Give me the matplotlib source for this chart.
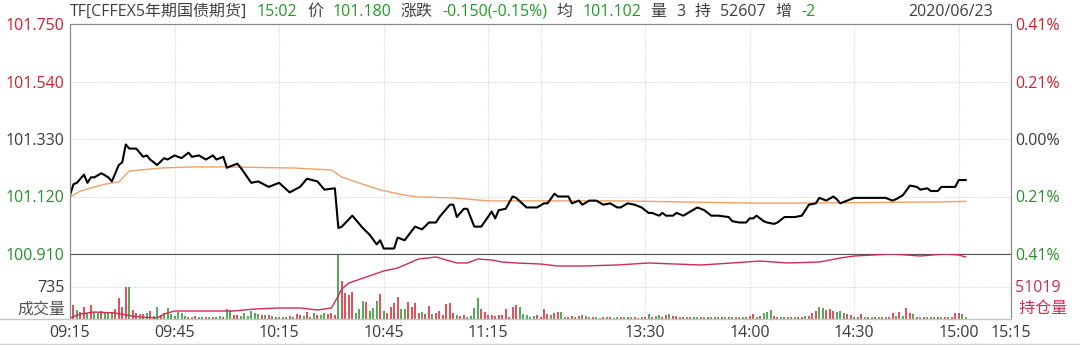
import matplotlib
matplotlib.use("Agg")
import matplotlib.pyplot as plt
from matplotlib.lines import Line2D

plt.rcParams['font.family'] = ['Open Sans', 'Noto Sans CJK SC', 'DejaVu Sans']

# ---- data --------------------------------------------------------------
# x axis is "trading minutes" since 09:15 (lunch break 11:30-13:00 removed)
tick_minutes = [0, 30, 60, 90, 120, 135, 165, 195, 225, 255, 270]
tick_labels = ["09:15", "09:45", "10:15", "10:45", "11:15", "",
               "13:30", "14:00", "14:30", "15:00", "15:15"]

prev_settle = 101.330
price_ticks = [100.910, 101.120, 101.330, 101.540, 101.750]
pct_labels = ["0.41%", "0.21%", "0.00%", "0.21%", "0.41%"]

price_t = [0, 1, 2, 4, 5, 6, 7, 9, 11, 12, 14, 15, 16, 17, 19, 21, 22, 23, 25, 27,
           28, 30, 32, 34, 35, 37, 39, 41, 42, 44, 45, 46, 48, 49, 52, 54, 57, 60, 63, 66,
           68, 71, 73, 76, 77, 78, 81, 82, 84, 86, 88, 89, 90, 93, 94, 96, 99, 101, 103, 105,
           106, 109, 110, 111, 113, 114, 116, 118, 121, 122, 123, 125, 127, 128, 131, 134, 136, 137, 139, 140,
           143, 144, 146, 147, 149, 151, 153, 155, 157, 158, 160, 162, 164, 166, 167, 169, 170, 171, 173, 174,
           176, 178, 180, 182, 184, 186, 189, 190, 192, 194, 195, 196, 197, 199, 200, 202, 203, 205, 206, 208,
           210, 211, 212, 214, 215, 217, 219, 220, 221, 223, 225, 234, 236, 237, 239, 241, 243, 244, 246, 247,
           249, 250, 254, 255, 257]
price_v = [101.125, 101.165, 101.170, 101.200, 101.170, 101.190, 101.190, 101.205, 101.190, 101.175,
           101.235, 101.245, 101.310, 101.295, 101.295, 101.265, 101.270, 101.255, 101.235, 101.260,
           101.255, 101.270, 101.260, 101.280, 101.265, 101.270, 101.255, 101.270, 101.255, 101.265,
           101.225, 101.230, 101.240, 101.225, 101.170, 101.175, 101.155, 101.170, 101.135, 101.155,
           101.185, 101.175, 101.145, 101.150, 101.005, 101.010, 101.050, 101.035, 101.005, 100.980,
           100.945, 100.960, 100.930, 100.930, 100.970, 100.960, 101.010, 101.000, 101.025, 101.025,
           101.045, 101.090, 101.090, 101.045, 101.075, 101.075, 101.010, 101.010, 101.065, 101.040,
           101.070, 101.075, 101.120, 101.115, 101.080, 101.080, 101.095, 101.095, 101.130, 101.120,
           101.120, 101.095, 101.105, 101.090, 101.105, 101.105, 101.090, 101.095, 101.080, 101.080,
           101.095, 101.090, 101.080, 101.060, 101.060, 101.050, 101.060, 101.050, 101.050, 101.060,
           101.050, 101.065, 101.080, 101.070, 101.050, 101.050, 101.045, 101.030, 101.025, 101.025,
           101.040, 101.040, 101.050, 101.030, 101.025, 101.020, 101.025, 101.045, 101.045, 101.045,
           101.050, 101.070, 101.090, 101.095, 101.115, 101.105, 101.120, 101.110, 101.095, 101.105,
           101.115, 101.115, 101.105, 101.110, 101.125, 101.160, 101.155, 101.145, 101.150, 101.140,
           101.140, 101.155, 101.155, 101.180, 101.180]

avg_t = [0, 3, 7, 10, 14, 17, 26, 35, 45, 64, 75, 78, 83, 89, 96, 100, 110, 120, 158, 195, 210, 248, 257]
avg_v = [101.118, 101.140, 101.155, 101.165, 101.173, 101.213, 101.224, 101.228, 101.228, 101.224,
         101.217, 101.191, 101.169, 101.144, 101.125, 101.118, 101.115, 101.104, 101.104, 101.096,
         101.096, 101.100, 101.102]

# volume per minute, t = 0..257, and whether the minute closed up (u) or down (d)
vol_mid = 735
volume = [700, 317, 204, 166, 279, 128, 317, 166, 128, 188,
          143, 128, 166, 219, 467, 264, 731, 731, 204, 128,
          106, 106, 128, 181, 75, 264, 90, 128, 241, 113,
          75, 166, 128, 75, 53, 45, 60, 40, 50, 45,
          40, 55, 45, 60, 50, 219, 203, 90, 100, 60,
          143, 75, 188, 143, 120, 90, 90, 100, 68, 45,
          50, 40, 45, 60, 40, 120, 90, 60, 166, 50,
          143, 100, 90, 143, 120, 143, 90, 1470, 860, 596,
          543, 618, 128, 219, 407, 377, 181, 241, 407, 566,
          181, 128, 279, 354, 490, 226, 219, 392, 279, 354,
          143, 166, 106, 294, 113, 128, 181, 90, 339, 354,
          143, 90, 68, 90, 53, 68, 241, 467, 219, 166,
          90, 90, 75, 90, 90, 219, 53, 264, 317, 264,
          113, 90, 53, 68, 90, 53, 219, 113, 90, 143,
          150, 166, 53, 53, 75, 53, 68, 90, 68, 40,
          35, 40, 30, 45, 35, 40, 30, 35, 45, 40,
          35, 45, 40, 30, 40, 45, 113, 45, 68, 90,
          40, 90, 113, 75, 68, 40, 35, 45, 40, 35,
          45, 40, 35, 45, 40, 50, 40, 35, 45, 40,
          50, 45, 40, 50, 45, 60, 113, 50, 60, 143,
          166, 204, 60, 45, 40, 50, 45, 40, 50, 45,
          50, 60, 75, 143, 188, 264, 241, 204, 219, 188,
          166, 188, 143, 113, 90, 50, 45, 113, 40, 45,
          40, 45, 50, 40, 45, 50, 128, 60, 166, 70,
          241, 143, 113, 45, 40, 50, 45, 40, 45, 50,
          45, 40, 50, 45, 128, 143, 113, 45]
vol_dir = ("duduududdu" "ddduuuuduu" "dududduddd" "ddddududdu" "duddudduud"
           "dddddududu" "dududuudud" "dudduuuduu" "uudddudddu" "duuuudduuu"
           "uduuduuuuu" "uduudddduu" "uuuuuuuuud" "dddduuuudu" "udduududud"
           "uddududdud" "ududdududd" "uuduududud" "dududududu" "dudduuudud"
           "dduudududu" "uduuudduuu" "ddduuduudu" "dududuudud" "uududududu"
           "duduuudd")

oi_mid = 51019
oi_half = 1601
oi_t = [0, 3, 7, 13, 16, 20, 25, 27, 30, 47, 53, 60, 66, 71, 75, 76, 78, 80, 85, 90,
        94, 98, 100, 105, 111, 114, 117, 121, 124, 128, 135, 140, 147, 157, 166, 181, 190, 198, 206, 215,
        221, 225, 236, 244, 251, 255, 257]
oi_v = [49467, 49664, 49763, 49714, 49615, 49517, 49467, 49664, 49812, 49812,
        49911, 49960, 49960, 49861, 49960, 50256, 50896, 51191, 51487, 51783,
        51930, 52226, 52374, 52472, 52177, 52177, 52374, 52324, 52226, 52177,
        52127, 52029, 52029, 52078, 52177, 52078, 52177, 52275, 52177, 52226,
        52423, 52521, 52620, 52521, 52620, 52571, 52472]

title_parts = [("TF[CFFEX5年期国债期货]", "gray"), ("15:02", "green"), ("价", "gray"),
               ("101.180", "green"), ("涨跌", "gray"), ("-0.150(-0.15%)", "green"),
               ("均", "gray"), ("101.102", "green"), ("量", "gray"), ("3", "gray"),
               ("持", "gray"), ("52607", "gray"), ("增", "gray"), ("-2", "green")]
date_text = "2020/06/23"

# ---- styling -------------------------------------------------------------
RED = "#d4202c"
GREEN = "#27902a"
GRAY = "#3a3a3a"
OI_RED = "#d02a55"
GRID = "#d9d9d9"
W, H = 1080, 345

fig = plt.figure(figsize=(W / 100, H / 100), dpi=100)
ax = fig.add_axes([70 / W, 1 - 254 / H, 941 / W, 230 / H])
axv = fig.add_axes([70 / W, 1 - 319 / H, 941 / W, 65 / H], sharex=ax)

# price panel
ax.plot(avg_t, avg_v, color="#f2a065", lw=1.0)
ax.plot(price_t, price_v, color="black", lw=1.5)
span = price_ticks[-1] - prev_settle
ax.set_ylim(prev_settle - span, prev_settle + span)
ax.set_xlim(0, 270)
ax.set_yticks(price_ticks)
ax.set_yticklabels([f"{p:.3f}" for p in price_ticks])
for lab, c in zip(ax.get_yticklabels(), [GREEN, GREEN, GRAY, RED, RED]):
    lab.set_color(c)
ax.tick_params(axis="y", length=0, pad=4, labelsize=11.5)
ax.tick_params(axis="x", length=0, labelbottom=False)
ax.set_xticks(tick_minutes)
ax.grid(True, color=GRID, lw=0.8, linestyle=(0, (1, 1)))

axp = ax.twinx()
axp.set_ylim(ax.get_ylim())
axp.set_yticks(price_ticks)
axp.set_yticklabels(pct_labels)
for lab, c in zip(axp.get_yticklabels(), [GREEN, GREEN, GRAY, RED, RED]):
    lab.set_color(c)
axp.tick_params(axis="y", length=0, pad=3, labelsize=11.5)

for a in (ax, axp):
    for s in ("left", "right", "top"):
        a.spines[s].set_color("#8a8a8a")
    a.spines["bottom"].set_color("#555555")

# volume panel
colors = [RED if d == "u" else GREEN for d in vol_dir]
axv.vlines(range(len(volume)), 0, volume, colors=colors, lw=1.1)
axv.set_ylim(0, 2 * vol_mid)
axv.set_yticks([vol_mid])
axv.set_yticklabels([str(vol_mid)], color=GRAY)
axv.tick_params(axis="y", length=0, pad=4, labelsize=11.5)
axv.set_xticks(tick_minutes)
axv.set_xticklabels(tick_labels, color=GRAY)
axv.tick_params(axis="x", length=0, pad=4, labelsize=11.5)
axv.grid(True, color=GRID, lw=0.8, linestyle=(0, (1, 1)))
for s in ("left", "right"):
    axv.spines[s].set_color("#8a8a8a")
axv.spines["top"].set_visible(False)
axv.spines["bottom"].set_visible(False)

axo = axv.twinx()
axo.plot(oi_t, oi_v, color=OI_RED, lw=1.0)
axo.set_ylim(oi_mid - oi_half, oi_mid + oi_half)
axo.set_yticks([oi_mid])
axo.set_yticklabels([str(oi_mid)], color=OI_RED)
axo.tick_params(axis="y", length=0, pad=3, labelsize=11.5)
for s in ("top", "bottom"):
    axo.spines[s].set_visible(False)
axo.spines["right"].set_color("#8a8a8a")
axo.spines["left"].set_color("#8a8a8a")

axv.text(-0.005, 0.15, "成交量", transform=axv.transAxes, ha="right",
         va="center", color="#555555", fontsize=11.5)
axv.text(1.0, 0.15, "  持仓量", transform=axv.transAxes, ha="left",
         va="center", color=OI_RED, fontsize=11.5)

# frame lines
fig.add_artist(Line2D([0, 1011 / W], [1 - 319 / H, 1 - 319 / H], color="#c4c4c4", lw=1))
fig.add_artist(Line2D([0, 1], [0.002, 0.002], color="#d0d0d0", lw=1))

# header line
fig.canvas.draw()
r = fig.canvas.get_renderer()
x = 70
for txt, c in title_parts:
    col = {"gray": "#404040", "green": "#229a26"}[c]
    t = fig.text(x / W, 1 - 12 / H, txt, color=col, fontsize=11.5, va="center", ha="left")
    bb = t.get_window_extent(renderer=r)
    x = bb.x1 + 9.5
fig.text(993 / W, 1 - 12 / H, date_text, color="#404040", fontsize=11.5, va="center", ha="right")

fig.savefig("out.png", dpi=100, facecolor="white")
